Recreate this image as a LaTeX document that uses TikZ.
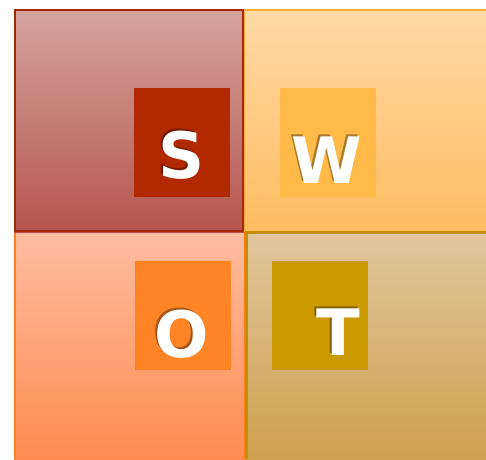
\documentclass[tikz,border=0pt]{standalone}
\usepackage{fontspec}
\setmainfont{DejaVu Sans}
\usetikzlibrary{positioning}
\definecolor{sTop}{HTML}{D6A3A0}
\definecolor{sBot}{HTML}{B5564E}
\definecolor{sLine}{HTML}{A52800}
\definecolor{sBox}{HTML}{B22900}
\definecolor{wTop}{HTML}{FFD9A6}
\definecolor{wBot}{HTML}{FFBC60}
\definecolor{wLine}{HTML}{FFB030}
\definecolor{wBox}{HTML}{FFBA47}
\definecolor{oTop}{HTML}{FFBDA0}
\definecolor{oBot}{HTML}{FF8B50}
\definecolor{oLine}{HTML}{FF7E1E}
\definecolor{oBox}{HTML}{FF8426}
\definecolor{tTop}{HTML}{E1C79D}
\definecolor{tBot}{HTML}{CFA04E}
\definecolor{tLine}{HTML}{C48E00}
\definecolor{tBox}{HTML}{CC9900}
\tikzset{
  tag/.style={fill=#1, draw=none, minimum width=96pt, minimum height=109pt, inner sep=0pt, anchor=north west},
  letter/.style={font=\bfseries\fontsize{64}{64}\selectfont, text=white, inner sep=0pt, anchor=base},
  shadowletter/.style={font=\bfseries\fontsize{64}{64}\selectfont, text=black, opacity=0.35, inner sep=0pt, anchor=base}
}
\begin{document}
\begin{tikzpicture}[x=1pt,y=-1pt]
\useasboundingbox (0,0) rectangle (486,459);
% O quadrant
\shade[top color=oTop, bottom color=oBot] (14,232) rectangle (245,459);
\draw[oLine, line width=2.4pt] (15.2,459) -- (15.2,232) -- (245,232) -- (245,459);
% T quadrant
\shade[top color=tTop, bottom color=tBot] (245,232) rectangle (486,459);
% W quadrant
\shade[top color=wTop, bottom color=wBot] (244,9) rectangle (486,231.5);
\draw[wLine, line width=2.2pt] (486,10) -- (244,10) -- (244,231);
\draw[tLine, line width=2.6pt] (246.5,459) -- (246.5,232.5) -- (486,232.5);
% S quadrant
\shade[top color=sTop, bottom color=sBot] (14,9) rectangle (244,232);
\draw[sLine, line width=2.4pt] (15,10) rectangle (243,231);
% tags
\node[tag=sBox] (sb) at (134,88) {};
\node[tag=wBox] (wb) at (280,88) {};
\node[tag=oBox] (ob) at (135,261) {};
\node[tag=tBox] (tb) at (272,261) {};
% letters with shadows
\node[shadowletter] at (180,176.5) {S};
\node[letter] (sl) at (182,178) {S};
\node[shadowletter] at (325,181.5) {W};
\node[letter] (wl) at (327,183) {W};
\node[shadowletter] at (180,355.5) {O};
\node[letter] (ol) at (182,357) {O};
\node[shadowletter] at (336,353.5) {T};
\node[letter] (tl) at (338,355) {T};
\end{tikzpicture}
\end{document}
